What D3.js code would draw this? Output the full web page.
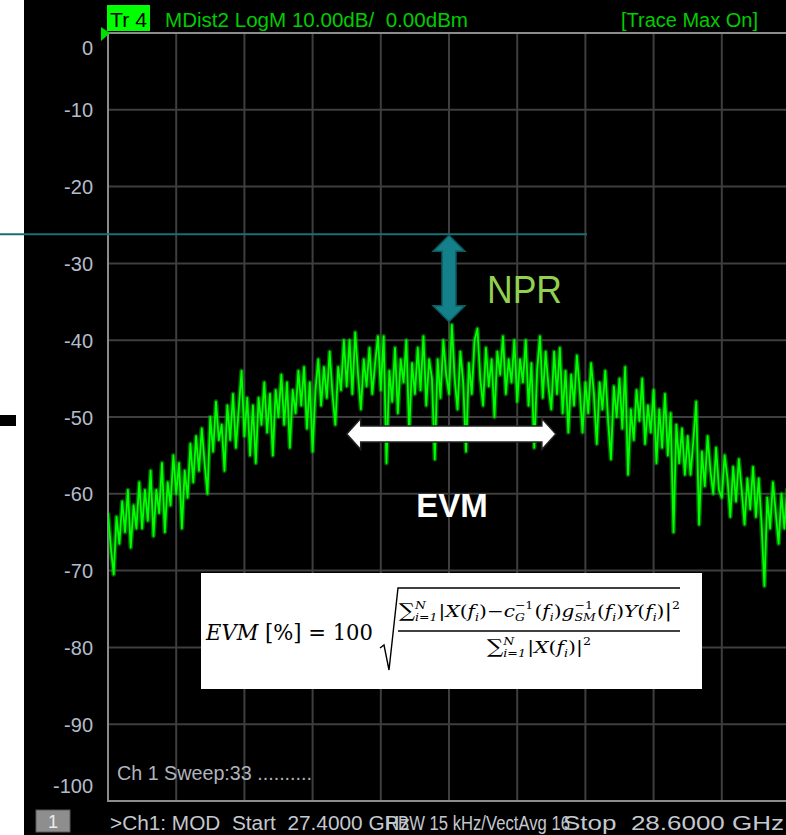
<!DOCTYPE html>
<html>
<head>
<meta charset="utf-8">
<script src="https://cdn.jsdelivr.net/npm/d3@7"></script>
<style>
  html, body { margin: 0; padding: 0; background: #ffffff; }
  svg { display: block; }
  text { white-space: pre; }
</style>
</head>
<body>
<script>
// ---- Sweep settings and measured trace (dBm per sweep point) ----
const freqStartGHz = 27.4;
const freqStopGHz = 28.6;
const levelsDbm = [
  -62.5, -67, -70.5, -63, -66.5, -61, -65, -59.5, -67, -61.5, -64.5, -58.5,
  -64.5, -59.5, -63.5, -57, -65.5, -59.5, -62.5, -56, -65, -58.5, -61.5, -55,
  -60, -56, -64.5, -57, -60.5, -53.5, -58.5, -52.5, -57, -51.5, -56, -60,
  -50, -54.5, -48, -53, -51, -57, -48.5, -53, -47, -54, -49, -44,
  -52.5, -47.5, -55, -48.5, -56, -47.5, -51, -45.5, -52, -47, -55, -46.5,
  -50, -44.5, -51, -45.5, -54, -46.5, -49.5, -44, -48.5, -43.5, -51.5, -45.5,
  -54.5, -46.5, -42.5, -48.5, -43.5, -47.5, -41.5, -47, -51, -43.5, -46.5, -40,
  -46, -40, -47, -39, -44.5, -49, -42.5, -46, -41, -47, -43, -39.5,
  -46.5, -39.5, -56, -44, -48, -41, -49.5, -42.5, -45.5, -40, -52, -43,
  -47, -41, -46.5, -39.5, -48.5, -42.5, -45, -55.5, -42.5, -47.5, -40, -44.5,
  -47, -38, -45, -49, -41.5, -45.5, -54.5, -43, -47, -40, -38.5, -45,
  -48.5, -41, -46, -42.5, -50, -41.5, -44.5, -39.5, -47, -42.5, -45.5, -40,
  -48, -42.5, -45.5, -40, -48.5, -43, -54, -44, -39.5, -47.5, -41.5, -46,
  -49, -41.5, -47, -41, -49.5, -44, -52, -44.5, -48.5, -42, -46.5, -52,
  -45.5, -49.5, -43, -47, -53.5, -45.5, -49, -44, -50.5, -55.5, -46, -50,
  -45, -51.5, -43.5, -57.5, -49, -53, -46.5, -50.5, -45, -53.5, -48.5, -52,
  -46.5, -56, -49, -54, -47, -55, -49.5, -65, -51, -56, -51.5, -57.5,
  -52.5, -57.5, -53, -48, -64, -54.5, -59, -52.5, -57, -60, -54, -59.5,
  -60.5, -55, -58, -63, -56.5, -61, -55.5, -59.5, -64, -58, -62, -56.5,
  -63, -58, -64, -72, -60.5, -64.5, -58.5, -62.5, -66.5, -60, -64.5, -59.5, -63
];
const yTicksDb = [0, -10, -20, -30, -40, -50, -60, -70, -80, -90, -100];
const freqDivisions = 10;

// Annotation levels
const nprRefDb = -26.2;      // reference (signal) level line
const nprTipDb = -37.6;      // peak of the in-band distortion
const evmFromGHz = 27.82;
const evmToGHz = 28.188;

// Screen text
const headerTrace = "Tr 4";
const headerInfo = "MDist2 LogM 10.00dB/  0.00dBm";
const headerState = "[Trace Max On]";
const sweepInfo = "Ch 1 Sweep:33 ..........";
const footerStart = ">Ch1: MOD  Start  27.4000 GHz";
const footerRbw = "RBW 15 kHz/VectAvg 16";
const footerStop = "Stop  28.6000 GHz";

const W = 786, H = 835;
const svg = d3.select("body").append("svg").attr("width", W).attr("height", H);

const x = d3.scaleLinear().domain([freqStartGHz, freqStopGHz]).range([108, 790]);
const y = d3.scaleLinear().domain([0, -100]).range([33, 801]);

// instrument screen background
svg.append("rect").attr("x", 24).attr("y", 0).attr("width", W - 24).attr("height", H).attr("fill", "#000");
// small slide mark on the left margin
svg.append("rect").attr("x", 0).attr("y", 415).attr("width", 16).attr("height", 11).attr("fill", "#000");

// grid
const freqGrid = d3.range(freqDivisions + 1).map(k => freqStartGHz + k * (freqStopGHz - freqStartGHz) / freqDivisions);
const grid = svg.append("g");
grid.selectAll("line.v").data(freqGrid.slice(1, -1)).join("line")
  .attr("x1", d => x(d)).attr("x2", d => x(d)).attr("y1", y(0)).attr("y2", y(-100))
  .attr("stroke", "#3e3e3e").attr("stroke-width", 2);
grid.selectAll("line.h").data(yTicksDb.slice(1, -1)).join("line")
  .attr("x1", x(freqStartGHz)).attr("x2", x(freqStopGHz)).attr("y1", d => y(d)).attr("y2", d => y(d))
  .attr("stroke", "#3e3e3e").attr("stroke-width", 2);
// frame
svg.append("rect").attr("x", x(freqStartGHz)).attr("y", y(0))
  .attr("width", x(freqStopGHz) - x(freqStartGHz)).attr("height", y(-100) - y(0))
  .attr("fill", "none").attr("stroke", "#8c8c8c").attr("stroke-width", 2);

// y axis labels
const yAxis = d3.axisLeft(y).tickValues(yTicksDb).tickSize(0).tickPadding(15).tickFormat(d => String(d));
const yg = svg.append("g").attr("transform", `translate(${x(freqStartGHz)},0)`).call(yAxis);
yg.select(".domain").remove();
yg.selectAll("text")
  .attr("fill", "#b4bccb")
  .style("font-family", "Liberation Sans, Arial, sans-serif")
  .style("font-size", "20px")
  .attr("dy", d => d === 0 ? "1.05em" : d === -100 ? "-0.45em" : "0.35em");

// trace (max-hold), drawn with a soft halo under a bright core
svg.append("clipPath").attr("id", "plotClip").append("rect")
  .attr("x", x(freqStartGHz)).attr("y", y(0))
  .attr("width", x(freqStopGHz) - x(freqStartGHz)).attr("height", y(-100) - y(0));
const n = levelsDbm.length;
const freqs = levelsDbm.map((_, i) => freqStartGHz + i * (freqStopGHz - freqStartGHz) / (n - 1));
const line = d3.line().x((d, i) => x(freqs[i])).y(d => y(d));
const tg = svg.append("g").attr("clip-path", "url(#plotClip)");
tg.append("path").datum(levelsDbm).attr("d", line)
  .attr("fill", "none").attr("stroke", "#00b400").attr("stroke-width", 4.6).attr("stroke-opacity", 0.55)
  .attr("stroke-linejoin", "round");
tg.append("path").datum(levelsDbm).attr("d", line)
  .attr("fill", "none").attr("stroke", "#00ff00").attr("stroke-width", 1.8)
  .attr("stroke-linejoin", "round");

// header
const hdrFont = "Liberation Sans, Arial, sans-serif";
svg.append("rect").attr("x", 107).attr("y", 5).attr("width", 43).attr("height", 26).attr("fill", "#00ff00");
svg.append("text").attr("x", 110).attr("y", 27).attr("textLength", 37).attr("lengthAdjust", "spacingAndGlyphs")
  .style("font-family", hdrFont).style("font-size", "20px").attr("fill", "#000").text(headerTrace);
svg.append("text").attr("x", 165).attr("y", 27).attr("textLength", 303).attr("lengthAdjust", "spacingAndGlyphs")
  .style("font-family", hdrFont).style("font-size", "20px").attr("fill", "#00cc00").text(headerInfo);
svg.append("text").attr("x", 621).attr("y", 27).attr("textLength", 137).attr("lengthAdjust", "spacingAndGlyphs")
  .style("font-family", hdrFont).style("font-size", "20px").attr("fill", "#00cc00").text(headerState);
// reference level pointer
svg.append("path").attr("d", `M101,${y(0) - 6} L110,${y(0)} L101,${y(0) + 8} Z`).attr("fill", "#00e000");

// sweep info inside grid
svg.append("text").attr("x", 117).attr("y", 780).attr("textLength", 195).attr("lengthAdjust", "spacingAndGlyphs")
  .style("font-family", hdrFont).style("font-size", "20px").attr("fill", "#b0b4bc").text(sweepInfo);

// footer
svg.append("rect").attr("x", 36).attr("y", 810).attr("width", 34).attr("height", 22).attr("fill", "#8e8e8e")
  .attr("stroke", "#5a5a5a").attr("stroke-width", 1);
svg.append("text").attr("x", 53).attr("y", 828).attr("text-anchor", "middle")
  .style("font-family", hdrFont).style("font-size", "18px").attr("fill", "#ececec").text("1");
const footFill = "#c4c8cf";
svg.append("text").attr("x", 110).attr("y", 830).attr("textLength", 300).attr("lengthAdjust", "spacingAndGlyphs")
  .style("font-family", hdrFont).style("font-size", "20px").attr("fill", footFill).text(footerStart);
svg.append("text").attr("x", 386).attr("y", 830).attr("textLength", 184).attr("lengthAdjust", "spacingAndGlyphs")
  .style("font-family", hdrFont).style("font-size", "20px").attr("fill", footFill).text(footerRbw);
svg.append("text").attr("x", 563).attr("y", 830).attr("textLength", 221).attr("lengthAdjust", "spacingAndGlyphs")
  .style("font-family", hdrFont).style("font-size", "20px").attr("fill", footFill).text(footerStop);

// ---- NPR annotation ----
svg.append("line").attr("x1", 0).attr("x2", 587).attr("y1", y(nprRefDb)).attr("y2", y(nprRefDb))
  .attr("stroke", "#1a6e74").attr("stroke-width", 2);
{
  const cx = x(28.0), t = y(nprRefDb) + 1, b = y(nprTipDb);
  const hw = 16, sw = 7, hh = 16;
  const d = `M${cx},${t} L${cx + hw},${t + hh} L${cx + sw},${t + hh} L${cx + sw},${b - hh} L${cx + hw},${b - hh}
             L${cx},${b} L${cx - hw},${b - hh} L${cx - sw},${b - hh} L${cx - sw},${t + hh} L${cx - hw},${t + hh} Z`;
  svg.append("path").attr("d", d).attr("fill", "#13808a").attr("stroke", "#0b5a60").attr("stroke-width", 1.5);
}
svg.append("text").attr("x", 487).attr("y", 303).attr("textLength", 75).attr("lengthAdjust", "spacingAndGlyphs")
  .style("font-family", hdrFont).style("font-size", "38px").attr("fill", "#92d050").text("NPR");

// ---- EVM annotation ----
{
  const l = x(evmFromGHz), r = x(evmToGHz), cy = 434;
  const hh = 15.5, sh = 8, hl = 14;
  const d = `M${l},${cy} L${l + hl},${cy - hh} L${l + hl},${cy - sh} L${r - hl},${cy - sh} L${r - hl},${cy - hh}
             L${r},${cy} L${r - hl},${cy + hh} L${r - hl},${cy + sh} L${l + hl},${cy + sh} L${l + hl},${cy + hh} Z`;
  svg.append("path").attr("d", d).attr("fill", "#ffffff").attr("stroke", "#222").attr("stroke-width", 1.5);
}
svg.append("text").attr("x", 452).attr("y", 517).attr("text-anchor", "middle")
  .style("font-family", hdrFont).style("font-size", "33px").style("font-weight", "bold")
  .attr("fill", "#ffffff").text("EVM");

// ---- EVM definition box ----
svg.append("rect").attr("x", 201).attr("y", 573).attr("width", 501).attr("height", 116).attr("fill", "#ffffff");
const mathFont = "DejaVu Serif, Liberation Serif, serif";

// lay out a run of formula pieces left to right; stacked scripts share one slot
function mathRun(parent, pieces, size) {
  const g = parent.append("g");
  let cx = 0;
  const put = (p, at) => {
    const fs = p.script ? size * 0.62 : (p.big ? size * 1.12 : size);
    const t = g.append("text").attr("x", at).attr("y", p.dy || 0)
      .style("font-family", mathFont).style("font-size", fs + "px")
      .style("font-style", p.it ? "italic" : "normal").attr("fill", "#000").text(p.t);
    return t.node().getComputedTextLength();
  };
  pieces.forEach(p => {
    if (p.stack) {
      const ws = p.stack.map(s => put(s, cx));
      cx += d3.max(ws) + 1;
    } else {
      cx += put(p, cx);
    }
  });
  return { g, width: cx };
}
function place(run, x0, baseline, targetW) {
  run.g.attr("transform", `translate(${x0},${baseline}) scale(${targetW / run.width},1)`);
}
const sup = (t, it) => ({ t, it, script: true, dy: -8 });
const sub = (t, it) => ({ t, it, script: true, dy: 4 });
const sumPiece = [{ t: "\u2211", big: true }, { stack: [sup("N", true), sub("i=1", true)] }];

const lhs = mathRun(svg, [{ t: "EVM", it: true }, { t: " [%] = 100" }], 23);
place(lhs, 206, 640, 167);

const numer = mathRun(svg, [
  ...sumPiece,
  { t: "|" }, { t: "X", it: true }, { t: "(" }, { t: "f", it: true }, sub("i", true),
  { t: ")\u2212" }, { t: "c", it: true }, { stack: [sup("\u22121"), sub("G", true)] },
  { t: "(" }, { t: "f", it: true }, sub("i", true), { t: ")" },
  { t: "g", it: true }, { stack: [sup("\u22121"), sub("SM", true)] },
  { t: "(" }, { t: "f", it: true }, sub("i", true), { t: ")" },
  { t: "Y", it: true }, { t: "(" }, { t: "f", it: true }, sub("i", true), { t: ")" },
  { t: "|", big: true }, sup("2")
], 17);
place(numer, 399, 617, 281);

const denom = mathRun(svg, [
  ...sumPiece,
  { t: "|" }, { t: "X", it: true }, { t: "(" }, { t: "f", it: true }, sub("i", true), { t: ")|" }, sup("2")
], 17);
place(denom, 487, 653, 104);

// fraction bar and radical sign
svg.append("line").attr("x1", 398).attr("x2", 680).attr("y1", 631).attr("y2", 631)
  .attr("stroke", "#000").attr("stroke-width", 1.3);
svg.append("path").attr("d", "M380,648 L384,645 L389,670 L398,588 L680,588")
  .attr("fill", "none").attr("stroke", "#000").attr("stroke-width", 1.4).attr("stroke-linejoin", "miter");
</script>
</body>
</html>
